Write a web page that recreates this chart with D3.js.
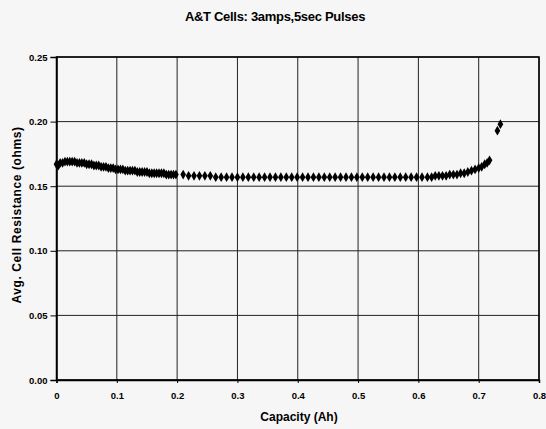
<!DOCTYPE html>
<html>
<head>
<meta charset="UTF-8">
<title>A&amp;T Cells</title>
<script src="https://d3js.org/d3.v7.min.js"></script>
<style>
  body { margin: 0; background: #f6f6f6; }
  svg { display: block; font-family: "Liberation Sans", Arial, sans-serif; }
</style>
</head>
<body>
<div id="chart"></div>
<script>
// capacity (Ah) and average cell resistance (ohms)
const capacity = [
  0.000, 0.003, 0.006, 0.010, 0.014, 0.018, 0.022, 0.026, 0.030, 0.034,
  0.038, 0.042, 0.046, 0.050, 0.054, 0.058, 0.062, 0.066, 0.070, 0.074,
  0.078, 0.082, 0.086, 0.090, 0.094, 0.098, 0.102, 0.106, 0.110, 0.114,
  0.118, 0.122, 0.126, 0.130, 0.134, 0.138, 0.142, 0.146, 0.150, 0.154,
  0.158, 0.162, 0.166, 0.170, 0.174, 0.178, 0.182, 0.186, 0.190, 0.194,
  0.198, 0.210, 0.219, 0.228, 0.237, 0.246, 0.255, 0.264, 0.273, 0.282,
  0.291, 0.300, 0.309, 0.318, 0.327, 0.336, 0.345, 0.354, 0.363, 0.372,
  0.381, 0.390, 0.399, 0.408, 0.417, 0.426, 0.435, 0.444, 0.453, 0.462,
  0.471, 0.480, 0.489, 0.498, 0.507, 0.516, 0.525, 0.534, 0.543, 0.552,
  0.561, 0.570, 0.579, 0.588, 0.597, 0.606, 0.615, 0.622, 0.628, 0.634,
  0.640, 0.646, 0.652, 0.658, 0.664, 0.670, 0.676, 0.682, 0.688, 0.694,
  0.700, 0.705, 0.710, 0.714, 0.718, 0.731, 0.736
];
const resistance = [
  0.167, 0.166, 0.168, 0.168, 0.169, 0.169, 0.169, 0.169, 0.169, 0.168,
  0.168, 0.168, 0.168, 0.167, 0.167, 0.167, 0.166, 0.166, 0.166, 0.165,
  0.165, 0.165, 0.164, 0.164, 0.164, 0.163, 0.163, 0.163, 0.163, 0.162,
  0.162, 0.162, 0.162, 0.162, 0.161, 0.161, 0.161, 0.161, 0.161, 0.160,
  0.160, 0.160, 0.160, 0.160, 0.160, 0.160, 0.159, 0.159, 0.159, 0.159,
  0.159, 0.159, 0.158, 0.158, 0.158, 0.158, 0.158, 0.157, 0.157, 0.157,
  0.157, 0.157, 0.157, 0.157, 0.157, 0.157, 0.157, 0.157, 0.157, 0.157,
  0.157, 0.157, 0.157, 0.157, 0.157, 0.157, 0.157, 0.157, 0.157, 0.157,
  0.157, 0.157, 0.157, 0.157, 0.157, 0.157, 0.157, 0.157, 0.157, 0.157,
  0.157, 0.157, 0.157, 0.157, 0.157, 0.157, 0.157, 0.157, 0.158, 0.158,
  0.158, 0.158, 0.159, 0.159, 0.159, 0.160, 0.160, 0.161, 0.162, 0.163,
  0.164, 0.165, 0.167, 0.168, 0.170, 0.193, 0.198
];
const xTicks = [0, 0.1, 0.2, 0.3, 0.4, 0.5, 0.6, 0.7, 0.8];
const xTickLabels = ["0", "0.1", "0.2", "0.3", "0.4", "0.5", "0.6", "0.7", "0.8"];
const yTicks = [0, 0.05, 0.10, 0.15, 0.20, 0.25];

const W = 546, H = 429;
const margin = { top: 57, right: 7, bottom: 49, left: 56.5 };
const width = W - margin.left - margin.right;
const height = H - margin.top - margin.bottom;

const data = capacity.map((c, i) => ({ c: c, r: resistance[i] }));

const svg = d3.select("#chart").append("svg")
  .attr("width", W).attr("height", H);

svg.append("text")
  .attr("x", 275).attr("y", 21)
  .attr("text-anchor", "middle")
  .attr("font-size", 13).attr("font-weight", "bold")
  .attr("letter-spacing", -0.3)
  .text("A&T Cells: 3amps,5sec Pulses");

const g = svg.append("g").attr("transform", `translate(${margin.left},${margin.top})`);

const x = d3.scaleLinear().domain([0, 0.8]).range([0, width]);
const y = d3.scaleLinear().domain([0, 0.25]).range([height, 0]);

// gridlines
g.append("g").selectAll("line").data(xTicks).join("line")
  .attr("x1", d => x(d)).attr("x2", d => x(d))
  .attr("y1", 0).attr("y2", height)
  .attr("stroke", "#222").attr("stroke-width", 1);
g.append("g").selectAll("line").data(yTicks).join("line")
  .attr("x1", 0).attr("x2", width)
  .attr("y1", d => y(d)).attr("y2", d => y(d))
  .attr("stroke", "#222").attr("stroke-width", 1);

// axes
const yAxis = g.append("g")
  .call(d3.axisLeft(y).tickValues(yTicks).tickFormat(d3.format(".2f")).tickSize(6).tickPadding(3));
const xAxis = g.append("g")
  .attr("transform", `translate(0,${height})`)
  .call(d3.axisBottom(x).tickValues(xTicks).tickFormat((d, i) => xTickLabels[i]).tickSize(3).tickPadding(9));
[xAxis, yAxis].forEach(a => {
  a.select(".domain").attr("stroke", "#000").attr("stroke-width", 1.5);
  a.selectAll(".tick line").attr("stroke", "#000");
  a.selectAll("text").attr("font-size", 9.5).attr("font-weight", "bold")
    .attr("font-family", "Liberation Sans, Arial, sans-serif").attr("fill", "#000");
});

// plot frame
g.append("rect")
  .attr("width", width).attr("height", height)
  .attr("fill", "none").attr("stroke", "#000").attr("stroke-width", 1.5);

// diamond markers
const diamond = d3.symbol().type(d3.symbolDiamond).size(28);
g.append("g").selectAll("path").data(data).join("path")
  .attr("transform", d => `translate(${x(d.c)},${y(d.r)})`)
  .attr("d", diamond)
  .attr("fill", "#000");

svg.append("text")
  .attr("x", 299).attr("y", 421)
  .attr("text-anchor", "middle")
  .attr("font-size", 12).attr("font-weight", "bold")
  .text("Capacity (Ah)");

svg.append("text")
  .attr("transform", "translate(21,215) rotate(-90)")
  .attr("text-anchor", "middle")
  .attr("font-size", 12).attr("font-weight", "bold")
  .attr("letter-spacing", 0.6)
  .text("Avg. Cell Resistance (ohms)");
</script>
</body>
</html>
